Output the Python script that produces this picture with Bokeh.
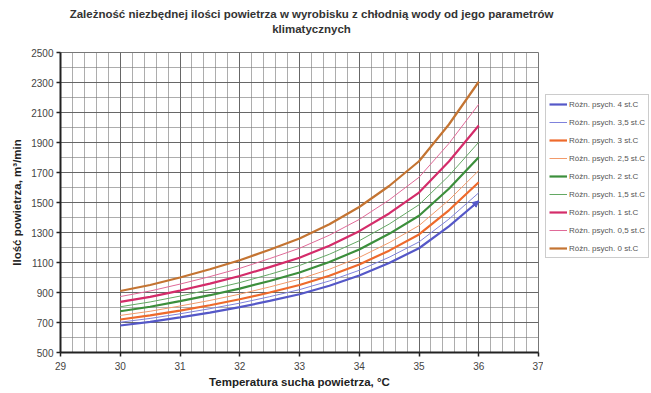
from bokeh.plotting import figure
from bokeh.layouts import row, column
from bokeh.models import (Legend, LegendItem, Label, FixedTicker, Range1d,
                          Arrow, NormalHead)
from bokeh.embed import file_html
from bokeh.resources import INLINE

# ---- data ----
temp = [30, 30.5, 31, 31.5, 32, 32.5, 33, 33.5, 34, 34.5, 35, 35.5, 36]

psych_4_0 = [680, 704, 734, 766, 802, 844, 888, 945, 1013, 1097, 1195, 1341, 1510]
psych_3_5 = [702, 727, 758, 792, 829, 872, 919, 977, 1048, 1135, 1237, 1389, 1565]
psych_3_0 = [720, 747, 779, 815, 855, 900, 950, 1012, 1087, 1179, 1287, 1448, 1635]
psych_2_5 = [747, 775, 810, 847, 889, 937, 989, 1055, 1134, 1232, 1346, 1516, 1713]
psych_2_0 = [775, 805, 842, 882, 926, 977, 1033, 1103, 1187, 1291, 1412, 1592, 1802]
psych_1_5 = [805, 837, 876, 919, 966, 1021, 1080, 1155, 1245, 1356, 1485, 1678, 1902]
psych_1_0 = [837, 871, 913, 959, 1010, 1069, 1132, 1212, 1309, 1427, 1566, 1773, 2013]
psych_0_5 = [873, 910, 956, 1006, 1061, 1126, 1195, 1282, 1387, 1517, 1668, 1893, 2155]
psych_0_0 = [910, 950, 1000, 1055, 1115, 1185, 1260, 1355, 1470, 1610, 1775, 2020, 2305]

series_labels = ["Różn. psych. 4 st.C", "Różn. psych. 3,5 st.C", "Różn. psych. 3 st.C",
                 "Różn. psych. 2,5 st.C", "Różn. psych. 2 st.C", "Różn. psych. 1,5 st.C",
                 "Różn. psych. 1 st.C", "Różn. psych. 0,5 st.C", "Różn. psych. 0 st.C"]
series_values = [psych_4_0, psych_3_5, psych_3_0, psych_2_5, psych_2_0,
                 psych_1_5, psych_1_0, psych_0_5, psych_0_0]
series_colors = ["#5558c8", "#7f82dc", "#ee6a2c", "#f29a6a", "#3c8f3c",
                 "#63a863", "#d42c6a", "#e06a98", "#c47432"]
series_widths = [2.2, 1, 2.2, 1, 2.2, 1, 2.2, 1, 2.2]

x_ticks = [29, 30, 31, 32, 33, 34, 35, 36, 37]
y_ticks = [500, 700, 900, 1100, 1300, 1500, 1700, 1900, 2100, 2300, 2500]

title_line1 = "Zależność niezbędnej ilości powietrza w wyrobisku z chłodnią wody od jego parametrów"
title_line2 = "klimatycznych"
x_label = "Temperatura sucha powietrza, °C"
y_label = "Ilość powietrza, m³/min"

FONT = "Liberation Sans"

# ---- title strip ----
tf = figure(width=651, height=44, output_backend="svg", toolbar_location=None,
            x_axis_type=None, y_axis_type=None, title=None,
            min_border_left=0, min_border_right=0, min_border_top=0, min_border_bottom=0,
            x_range=Range1d(0, 1), y_range=Range1d(0, 1))
tf.outline_line_color = None
tf.xgrid.visible = False
tf.ygrid.visible = False
for txt, yy in ((title_line1, 31), (title_line2, 15.5)):
    tf.add_layout(Label(text=txt, x=311, y=yy, x_units="screen", y_units="screen",
                        text_align="center", text_baseline="middle",
                        text_font=FONT, text_font_size="11.5px", text_font_style="bold",
                        text_color="#333333"))

# ---- main chart ----
p = figure(width=543, height=349, output_backend="svg", toolbar_location=None,
           x_range=Range1d(29, 37), y_range=Range1d(500, 2500),
           min_border_left=60, min_border_right=5, min_border_top=8,
           min_border_bottom=41, title=None)

x_minor = [29 + i * 0.2 for i in range(41)]
y_minor = [500 + i * 100 for i in range(21)]
p.xaxis.ticker = FixedTicker(ticks=x_ticks, minor_ticks=x_minor)
p.yaxis.ticker = FixedTicker(ticks=y_ticks, minor_ticks=y_minor)

for ax in (p.xaxis[0], p.yaxis[0]):
    ax.axis_line_color = "#222222"
    ax.axis_line_width = 2
    ax.major_tick_line_color = "#222222"
    ax.major_tick_line_width = 1.5
    ax.major_tick_out = 4
    ax.major_tick_in = 0
    ax.minor_tick_line_color = None
    ax.major_label_text_font = FONT
    ax.major_label_text_font_size = "10px"
    ax.major_label_text_color = "#444444"
    ax.axis_label_text_font = FONT
    ax.axis_label_text_font_size = "11.5px"
    ax.axis_label_text_font_style = "bold"
    ax.axis_label_text_color = "#222222"

p.xaxis.axis_label = x_label
p.yaxis.axis_label = y_label
p.xaxis.axis_label_standoff = 3
p.xaxis.major_label_standoff = 5
p.yaxis.axis_label_standoff = 5
p.yaxis.major_label_standoff = 3

p.xgrid.grid_line_color = "#555555"
p.xgrid.grid_line_alpha = 0.8
p.xgrid.minor_grid_line_color = "#777777"
p.xgrid.minor_grid_line_alpha = 0.6
p.ygrid.grid_line_color = "#555555"
p.ygrid.grid_line_alpha = 0.8
p.ygrid.minor_grid_line_color = "#777777"
p.ygrid.minor_grid_line_alpha = 0.6
p.outline_line_color = "#777777"
p.background_fill_color = "white"

for vals, col, w in zip(series_values, series_colors, series_widths):
    p.line(temp, vals, line_color=col, line_width=w)

p.add_layout(Arrow(end=NormalHead(size=6, fill_color=series_colors[0],
                                  line_color=series_colors[0]),
                   x_start=temp[-2] + 0.4, y_start=psych_4_0[-2] + 0.8 * (psych_4_0[-1] - psych_4_0[-2]),
                   x_end=temp[-1], y_end=psych_4_0[-1],
                   line_color=series_colors[0], line_width=2))

# ---- legend panel ----
pl = figure(width=108, height=349, output_backend="svg", toolbar_location=None,
            x_axis_type=None, y_axis_type=None, min_border=0, title=None,
            x_range=Range1d(0, 1), y_range=Range1d(0, 1))
pl.outline_line_color = None
pl.xgrid.visible = False
pl.ygrid.visible = False
items = []
for lab, vals, col, w in zip(series_labels, series_values, series_colors, series_widths):
    r = pl.line(temp, vals, line_color=col, line_width=w)   # off-range: only the key shows
    items.append(LegendItem(label=lab, renderers=[r]))

legend = Legend(items=items, location=(2, 94), orientation="vertical")
legend.label_text_font = FONT
legend.label_text_font_size = "8px"
legend.label_text_color = "#555555"
legend.label_height = 12
legend.glyph_height = 12
legend.glyph_width = 18
legend.spacing = 6
legend.padding = 3
legend.margin = 0
legend.label_standoff = 2
legend.border_line_color = "#999999"
legend.background_fill_alpha = 1
pl.add_layout(legend, "center")

layout = column(tf, row(p, pl, spacing=0), spacing=0)
open("out.html", "w").write(file_html(layout, INLINE))
